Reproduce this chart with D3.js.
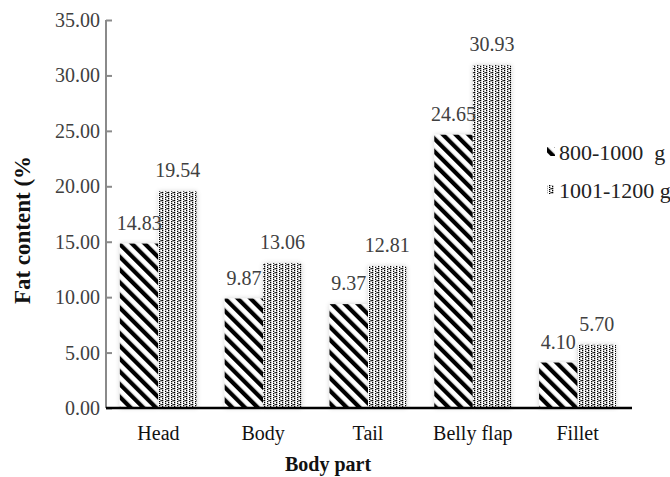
<!DOCTYPE html>
<html>
<head>
<meta charset="utf-8">
<script src="https://cdn.jsdelivr.net/npm/d3@7"></script>
<style>
  html, body { margin: 0; padding: 0; background: #fff; }
  svg { display: block; }
  svg text { font-family: "Liberation Serif", "Times New Roman", serif; }
</style>
</head>
<body>
<svg id="chart" width="670" height="477"></svg>
<script>
// Fat content (%) by body part for two weight classes
const categories = ["Head", "Body", "Tail", "Belly flap", "Fillet"];
const seriesNames = ["800-1000  g", "1001-1200 g"];
const small = [14.83, 9.87, 9.37, 24.65, 4.10];   // 800-1000 g
const large = [19.54, 13.06, 12.81, 30.93, 5.70]; // 1001-1200 g
const yTicks = [0, 5, 10, 15, 20, 25, 30, 35];

const SERIF = "'Liberation Serif', 'Times New Roman', serif";
const svg = d3.select("#chart");
const defs = svg.append("defs");

// diagonal hatch (top-left to bottom-right)
const hatch = defs.append("pattern")
  .attr("id", "hatch")
  .attr("patternUnits", "userSpaceOnUse")
  .attr("width", 9).attr("height", 9)
  .attr("patternTransform", "rotate(-45)");
hatch.append("rect").attr("width", 9).attr("height", 9).attr("fill", "#fff");
hatch.append("rect").attr("width", 4.2).attr("height", 9).attr("fill", "#000");

// stippled dots in columns
const dots = defs.append("pattern")
  .attr("id", "dots")
  .attr("patternUnits", "userSpaceOnUse")
  .attr("width", 6).attr("height", 4);
dots.append("rect").attr("width", 6).attr("height", 4).attr("fill", "#fff");
[[0, 0], [0, 2], [3, 1], [3, 3], [4.5, 0]].forEach(([x, y]) =>
  dots.append("rect").attr("x", x).attr("y", y).attr("width", 1.3).attr("height", 1.3).attr("fill", "#000"));

// soft shadow around bars
const shadow = defs.append("filter").attr("id", "shadow")
  .attr("x", "-40%").attr("y", "-5%").attr("width", "180%").attr("height", "110%");
shadow.append("feGaussianBlur").attr("in", "SourceAlpha").attr("stdDeviation", 2.5).attr("result", "b");
shadow.append("feComponentTransfer").attr("in", "b").attr("result", "s")
  .append("feFuncA").attr("type", "linear").attr("slope", 0.18);
const merge = shadow.append("feMerge");
merge.append("feMergeNode").attr("in", "s");
merge.append("feMergeNode").attr("in", "SourceGraphic");

const x0 = d3.scaleBand().domain(categories).range([106, 630]).paddingInner(0.265).paddingOuter(0.1325);
const x1 = d3.scaleBand().domain([0, 1]).range([0, x0.bandwidth()]);
const y = d3.scaleLinear().domain([0, 35]).range([408, 20]);

const series = [
  { name: seriesNames[0], values: small, fill: "url(#hatch)" },
  { name: seriesNames[1], values: large, fill: "url(#dots)" }
];

// bars
series.forEach((s, si) => {
  svg.append("g").selectAll("rect")
    .data(s.values)
    .join("rect")
    .attr("x", (d, i) => x0(categories[i]) + x1(si))
    .attr("y", d => y(d))
    .attr("width", x1.bandwidth())
    .attr("height", d => y(0) - y(d))
    .attr("fill", s.fill)
    .attr("filter", "url(#shadow)");
});

// value labels
series.forEach((s, si) => {
  svg.append("g").selectAll("text")
    .data(s.values)
    .join("text")
    .attr("x", (d, i) => x0(categories[i]) + x1(si) + x1.bandwidth() / 2)
    .attr("y", d => y(d) - 14)
    .attr("text-anchor", "middle")
    .attr("font-family", SERIF)
    .attr("font-size", 20)
    .attr("fill", "#404040")
    .text(d => d.toFixed(2));
});

// y axis
const yAxis = svg.append("g")
  .attr("transform", "translate(106,0)")
  .call(d3.axisRight(y).tickValues(yTicks).tickSize(6).tickFormat(""));
yAxis.select(".domain").attr("stroke", "#8a8a8a").attr("stroke-width", 2).attr("d", "M0,20V408");
yAxis.selectAll(".tick line").attr("stroke", "#8a8a8a").attr("stroke-width", 2);
svg.append("g").selectAll("text")
  .data(yTicks)
  .join("text")
  .attr("x", 100)
  .attr("y", d => y(d))
  .attr("dy", "0.35em")
  .attr("text-anchor", "end")
  .attr("font-family", SERIF)
  .attr("font-size", 20)
  .attr("fill", "#404040")
  .text(d => d.toFixed(2));

// x axis
const xAxis = svg.append("g")
  .attr("transform", "translate(0,408)")
  .call(d3.axisBottom(x0).tickSize(0).tickPadding(18));
xAxis.attr("font-family", SERIF);
xAxis.select(".domain").attr("stroke", "#000").attr("stroke-width", 2.5).attr("d", "M106,0H632");
xAxis.selectAll(".tick text")
  .attr("font-family", SERIF)
  .attr("font-size", 20)
  .attr("fill", "#111");

// axis titles
svg.append("text")
  .attr("x", 328).attr("y", 471)
  .attr("text-anchor", "middle")
  .attr("font-family", SERIF)
  .attr("font-size", 20).attr("font-weight", "bold").attr("fill", "#111")
  .text("Body part");
svg.append("text")
  .attr("transform", "translate(30,230) rotate(-90)")
  .attr("text-anchor", "middle")
  .attr("font-family", SERIF)
  .attr("font-size", 23).attr("font-weight", "bold").attr("fill", "#111")
  .text("Fat content (%");

// legend
const legend = svg.append("g");
series.forEach((s, si) => {
  const gy = 152 + si * 38;
  legend.append("rect")
    .attr("x", 547).attr("y", gy - 5).attr("width", 8).attr("height", 9)
    .attr("fill", s.fill);
  legend.append("text")
    .attr("x", 559).attr("y", gy)
    .attr("dy", "0.35em")
    .attr("font-family", SERIF)
    .attr("font-size", 22)
    .attr("fill", "#222")
    .style("white-space", "pre")
    .text(s.name);
});
</script>
</body>
</html>
